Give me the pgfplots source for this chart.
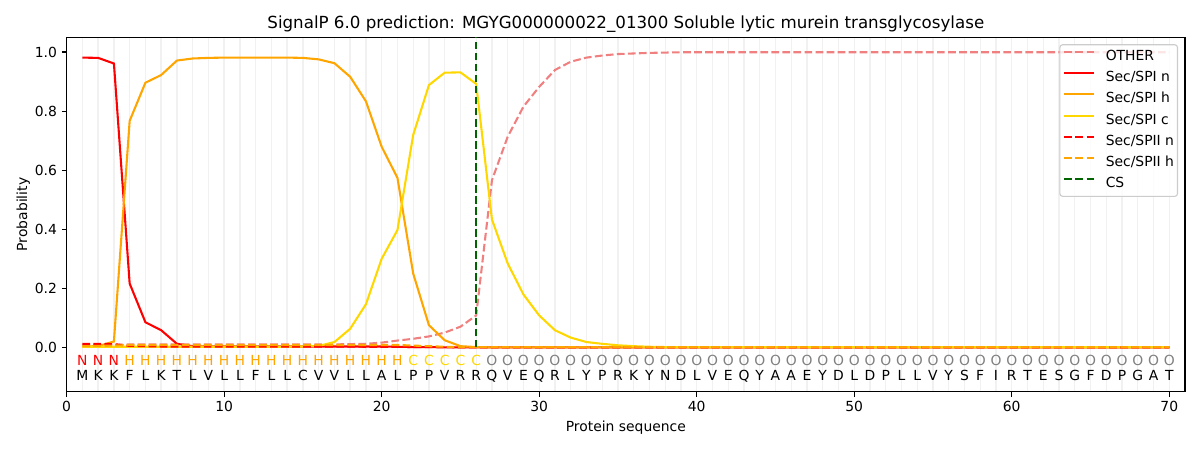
\documentclass[border=0pt]{standalone}
\usepackage{fontspec}
\setmainfont{DejaVu Sans}
\usepackage{pgfplots}
\usepackage{pgfplotstable}
\pgfplotsset{compat=1.18}
\definecolor{mplcoral}{RGB}{240,128,128}
\definecolor{mplorange}{RGB}{255,165,0}
\definecolor{mplgold}{RGB}{255,215,0}
\definecolor{mplgreen}{RGB}{0,100,0}
\definecolor{gridgray}{RGB}{241,241,241}
\definecolor{mplgray}{RGB}{128,128,128}
\definecolor{legframe}{RGB}{204,204,204}

\pgfplotstableread{
pos other spin spih spic spiin spiih
1 0.008 0.981 0.003 0.002 0.012 0.004
2 0.008 0.980 0.004 0.002 0.012 0.005
3 0.008 0.961 0.020 0.002 0.011 0.006
4 0.010 0.216 0.767 0.002 0.005 0.008
5 0.010 0.085 0.896 0.002 0.004 0.008
6 0.010 0.058 0.922 0.002 0.003 0.008
7 0.010 0.012 0.971 0.002 0.003 0.008
8 0.010 0.004 0.978 0.002 0.003 0.008
9 0.010 0.003 0.980 0.002 0.003 0.008
10 0.010 0.003 0.981 0.002 0.003 0.008
11 0.010 0.003 0.981 0.002 0.003 0.008
12 0.010 0.003 0.981 0.002 0.003 0.008
13 0.010 0.003 0.981 0.002 0.003 0.008
14 0.010 0.003 0.981 0.002 0.003 0.008
15 0.010 0.003 0.980 0.003 0.003 0.008
16 0.010 0.003 0.975 0.005 0.003 0.008
17 0.010 0.003 0.962 0.018 0.003 0.008
18 0.011 0.003 0.916 0.063 0.003 0.008
19 0.012 0.003 0.833 0.146 0.002 0.008
20 0.016 0.003 0.679 0.300 0.002 0.008
21 0.023 0.002 0.574 0.397 0.002 0.008
22 0.029 0.001 0.250 0.719 0.001 0.006
23 0.037 0.001 0.075 0.888 0.001 0.004
24 0.050 0.000 0.024 0.930 0.001 0.002
25 0.070 0.000 0.004 0.931 0.000 0.001
26 0.108 0.000 0.001 0.892 0.000 0.001
27 0.566 0.000 0.000 0.433 0.000 0.001
28 0.713 0.000 0.000 0.284 0.000 0.001
29 0.815 0.000 0.000 0.179 0.000 0.001
30 0.882 0.000 0.000 0.108 0.000 0.001
31 0.939 0.000 0.000 0.058 0.000 0.001
32 0.967 0.000 0.000 0.033 0.000 0.001
33 0.981 0.000 0.000 0.018 0.000 0.001
34 0.988 0.000 0.000 0.012 0.000 0.001
35 0.993 0.000 0.000 0.007 0.000 0.001
36 0.995 0.000 0.000 0.004 0.000 0.001
37 0.997 0.000 0.000 0.002 0.000 0.001
38 0.998 0.000 0.000 0.001 0.000 0.001
39 0.999 0.000 0.000 0.001 0.000 0.001
40 0.999 0.000 0.000 0.001 0.000 0.001
41 0.999 0.000 0.000 0.001 0.000 0.001
42 0.999 0.000 0.000 0.001 0.000 0.001
43 0.999 0.000 0.000 0.001 0.000 0.001
44 0.999 0.000 0.000 0.001 0.000 0.001
45 0.999 0.000 0.000 0.001 0.000 0.001
46 0.999 0.000 0.000 0.001 0.000 0.001
47 0.999 0.000 0.000 0.001 0.000 0.001
48 0.999 0.000 0.000 0.001 0.000 0.001
49 0.999 0.000 0.000 0.001 0.000 0.001
50 0.999 0.000 0.000 0.001 0.000 0.001
51 0.999 0.000 0.000 0.001 0.000 0.001
52 0.999 0.000 0.000 0.001 0.000 0.001
53 0.999 0.000 0.000 0.001 0.000 0.001
54 0.999 0.000 0.000 0.001 0.000 0.001
55 0.999 0.000 0.000 0.001 0.000 0.001
56 0.999 0.000 0.000 0.001 0.000 0.001
57 0.999 0.000 0.000 0.001 0.000 0.001
58 0.999 0.000 0.000 0.001 0.000 0.001
59 0.999 0.000 0.000 0.001 0.000 0.001
60 0.999 0.000 0.000 0.001 0.000 0.001
61 0.999 0.000 0.000 0.001 0.000 0.001
62 0.999 0.000 0.000 0.001 0.000 0.001
63 0.999 0.000 0.000 0.001 0.000 0.001
64 0.999 0.000 0.000 0.001 0.000 0.001
65 0.999 0.000 0.000 0.001 0.000 0.001
66 0.999 0.000 0.000 0.001 0.000 0.001
67 0.999 0.000 0.000 0.001 0.000 0.001
68 0.999 0.000 0.000 0.001 0.000 0.001
69 0.999 0.000 0.000 0.001 0.000 0.001
70 0.999 0.000 0.000 0.001 0.000 0.001
}\probtable

\pgfplotstableread{
x y
26 0
26 1.05
}\cstable

\begin{document}
\begin{tikzpicture}
\path[use as bounding box] (0,0) rectangle (864pt,324pt);
\begin{axis}[
  at={(48pt,42pt)}, anchor=south west,
  scale only axis, width=805.2pt, height=255.2pt,
  xmin=0, xmax=71, ymin=-0.15, ymax=1.05,
  xtick={0,10,...,70}, ytick={0,0.2,0.4,0.6,0.8,1.0},
  minor xtick={1,2,...,70}, xminorgrids=true,
  minor grid style={gridgray, line width=1pt},
  minor tick length=0pt,
  tick align=outside, major tick length=3.5pt, tick pos=left,
  every tick/.style={black, line width=0.8pt},
  axis line style={line width=0.8pt},
  tick label style={font=\fontsize{10}{12}\selectfont},
  /pgf/number format/assume math mode=true,
  yticklabel style={/pgf/number format/fixed, /pgf/number format/fixed zerofill, /pgf/number format/precision=1},
  title={SignalP 6.0 prediction: MGYG000000022\_01300 Soluble lytic murein transglycosylase},
  every axis title/.style={font=\fontsize{12}{14}\selectfont, at={(rel axis cs:0.5,1)}, anchor=base, yshift=6pt},
  xlabel={Protein sequence}, ylabel={Probability},
  label style={font=\fontsize{10}{12}\selectfont},
  every axis x label/.style={at={(rel axis cs:0.5,0)}, anchor=base, yshift=-29pt},
  every axis y label/.style={at={(rel axis cs:0,0.5)}, xshift=-28.5pt, rotate=90, anchor=base},
  legend style={at={(rel axis cs:1,1)}, xshift=-5pt, yshift=-5pt, anchor=north east,
    draw=legframe, line width=0.8pt, rounded corners=2pt, fill=white, fill opacity=0.8,
    draw opacity=1, text opacity=1, font=\fontsize{10}{12}\selectfont,
    inner xsep=2.5pt, inner ysep=4pt, row sep=5.2pt,
    nodes={inner sep=0pt, text height=7.5pt, text depth=2.5pt},
    /tikz/every odd column/.append style={column sep=8pt}},
  legend cell align=left,
  legend image code/.code={\draw[#1] (0pt,3.6pt) -- (21pt,3.6pt);},
  mydash/.style={dash pattern=on 5.55pt off 2.4pt},
]
\addplot[mplcoral, line width=1.5pt, mydash] table[x=pos, y=other] {\probtable};
\addlegendentry{OTHER}
\addplot[red, line width=1.5pt] table[x=pos, y=spin] {\probtable};
\addlegendentry{Sec/SPI n}
\addplot[mplorange, line width=1.5pt] table[x=pos, y=spih] {\probtable};
\addlegendentry{Sec/SPI h}
\addplot[mplgold, line width=1.5pt] table[x=pos, y=spic] {\probtable};
\addlegendentry{Sec/SPI c}
\addplot[red, line width=1.5pt, mydash] table[x=pos, y=spiin] {\probtable};
\addlegendentry{Sec/SPII n}
\addplot[mplorange, line width=1.5pt, mydash] table[x=pos, y=spiih] {\probtable};
\addlegendentry{Sec/SPII h}
\addplot[mplgreen, line width=1.5pt, mydash] table[x=x, y=y] {\cstable};
\addlegendentry{CS}

\pgfplotsinvokeforeach{1,...,3}{\node[text=red, anchor=base, font=\fontsize{10}{12}\selectfont] at (axis cs:#1,-0.0624) {N};}
\pgfplotsinvokeforeach{4,...,21}{\node[text=mplorange, anchor=base, font=\fontsize{10}{12}\selectfont] at (axis cs:#1,-0.0624) {H};}
\pgfplotsinvokeforeach{22,...,26}{\node[text=mplgold, anchor=base, font=\fontsize{10}{12}\selectfont] at (axis cs:#1,-0.0624) {C};}
\pgfplotsinvokeforeach{27,...,70}{\node[text=mplgray, anchor=base, font=\fontsize{10}{12}\selectfont] at (axis cs:#1,-0.0624) {O};}

\foreach \i/\a in {1/M,2/K,3/K,4/F,5/L,6/K,7/T,8/L,9/V,10/L,11/L,12/F,13/L,14/L,15/C,16/V,17/V,18/L,19/L,20/A,21/L,22/P,23/P,24/V,25/R,26/R,27/Q,28/V,29/E,30/Q,31/R,32/L,33/Y,34/P,35/R,36/K,37/Y,38/N,39/D,40/L,41/V,42/E,43/Q,44/Y,45/A,46/A,47/E,48/Y,49/D,50/L,51/D,52/P,53/L,54/L,55/V,56/Y,57/S,58/F,59/I,60/R,61/T,62/E,63/S,64/G,65/F,66/D,67/P,68/G,69/A,70/T}{
  \edef\tmp{\noexpand\node[text=black, anchor=base, font=\noexpand\fontsize{10}{12}\noexpand\selectfont] at (axis cs:\i,-0.112) {\a};}
  \tmp
}
\end{axis}
\end{tikzpicture}
\end{document}
